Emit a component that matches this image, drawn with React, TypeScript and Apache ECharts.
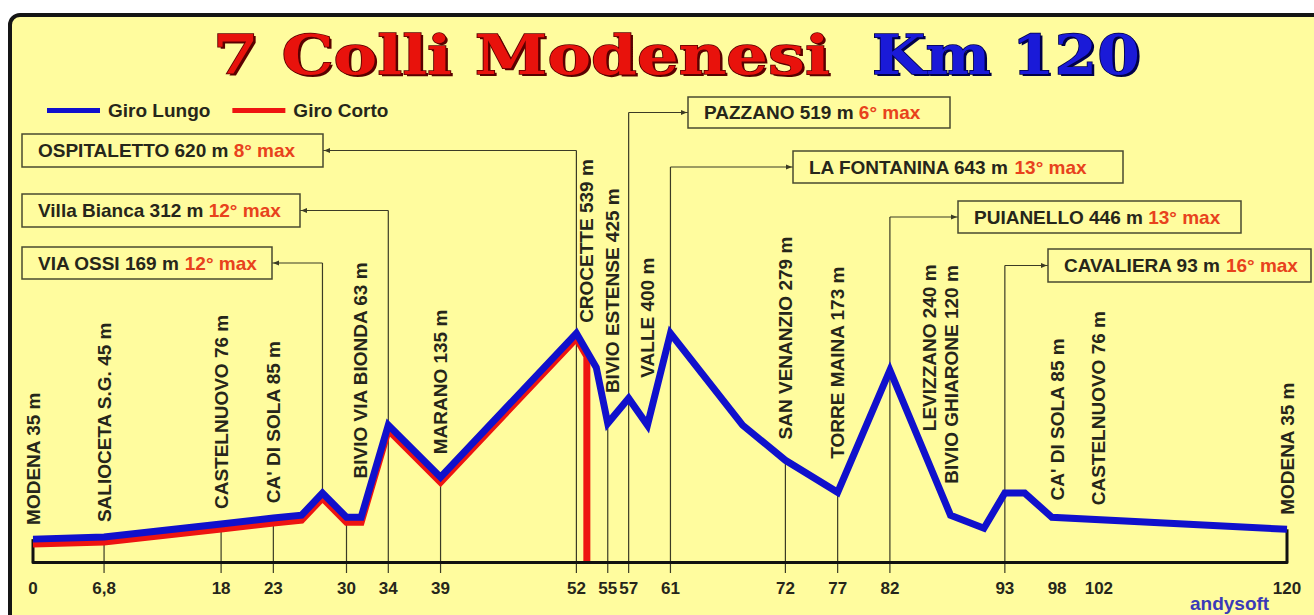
import React, { useEffect, useRef } from "react";
import * as echarts from "echarts";

// ---------------- data ----------------
const TICK_KM = [0, 6.8, 18, 23, 30, 34, 39, 52, 55, 57, 61, 72, 77, 82, 93, 98, 102, 120];

// Giro Lungo profile (km, elevation as drawn)
const LUNGO_KM = [0, 6.8, 18, 23, 25.7, 27.7, 30, 31.4, 34, 39, 52, 53.9, 55, 57, 58.8, 61, 67.9, 72, 77, 82, 87.8, 91, 93, 94.9, 97.5, 120];
const LUNGO_M = [35, 41, 78, 95, 103, 166, 97, 97, 359, 211, 620, 523, 364, 435, 359, 620, 359, 259, 168, 515, 103, 66, 166, 166, 97, 63];

// Giro Corto profile (same road up to the turn at Crocette)
const CORTO_KM = [0, 6.8, 18, 23, 25.7, 27.7, 30, 31.4, 34, 39, 52, 53];
const CORTO_M = [35, 41, 78, 95, 103, 166, 97, 97, 359, 211, 620, 569];

const SERIES_NAMES = ["Giro Lungo", "Giro Corto"];

const PLACE_NAMES = [
  "MODENA 35 m",
  "SALIOCETA S.G. 45 m",
  "CASTELNUOVO 76 m",
  "CA' DI SOLA 85 m",
  "BIVIO VIA BIONDA 63 m",
  "MARANO 135 m",
  "CROCETTE 539 m",
  "BIVIO ESTENSE 425 m",
  "VALLE 400 m",
  "SAN VENANZIO 279 m",
  "TORRE MAINA 173 m",
  "LEVIZZANO 240 m",
  "BIVIO GHIARONE 120 m",
  "CA' DI SOLA 85 m",
  "CASTELNUOVO 76 m",
  "MODENA 35 m",
];
const PLACE_KM = [0, 6.8, 18, 23, 31.3, 39, 53, 55.5, 58.8, 72, 77, 85.8, 87.9, 98, 102, 120];

const CLIMB_NAMES = ["OSPITALETTO 620 m", "Villa Bianca 312 m", "VIA OSSI 169 m", "PAZZANO 519 m", "LA FONTANINA 643 m", "PUIANELLO 446 m", "CAVALIERA 93 m"];
const CLIMB_MAX = ["8° max", "12° max", "12° max", "6° max", "13° max", "13° max", "16° max"];
const CLIMB_KM = [52, 34, 27.7, 57, 61, 82, 93];

const GUIDE_KM = [6.8, 18, 23, 30, 39, 55, 72, 77];

const TITLE_MAIN = "7 Colli Modenesi";
const TITLE_KM = "Km 120";
const CREDIT = "andysoft";

// ---------------- layout / style ----------------
const W = 1314;
const H = 615;
const GRID_LEFT = 33;
const GRID_RIGHT = 27;
const GRID_TOP = 101;
const GRID_BOTTOM = 53;
const Y_MIN = -30;
const Y_MAX = 1280;
const RED_SHIFT = 5;

const YELLOW = "#FFFC9E";
const BLUE = "#1010CC";
const RED = "#EE1411";
const INK = "#26261a";
const GRADE = "#E8421C";
const THIN = "#3b3b25";
const SANS = '"Liberation Sans", Arial, sans-serif';
const SERIF = '"DejaVu Serif", serif';

// box: x, y, w, h, side of the box relative to its guide line, stop at curve
const CLIMB_BOX: [number, number, number, number, string, boolean][] = [
  [22, 134, 301, 33, "L", false],
  [22, 194, 278, 33, "L", false],
  [22, 247, 250, 32, "L", true],
  [688, 97, 262, 31, "R", false],
  [793, 151, 330, 32, "R", false],
  [958, 201, 283, 32, "R", false],
  [1048, 249, 263, 33, "R", false],
];

function interp(km: number): number {
  if (km <= LUNGO_KM[0]) return LUNGO_M[0];
  for (let i = 1; i < LUNGO_KM.length; i++) {
    if (km <= LUNGO_KM[i]) {
      const t = (km - LUNGO_KM[i - 1]) / (LUNGO_KM[i] - LUNGO_KM[i - 1]);
      return LUNGO_M[i - 1] + t * (LUNGO_M[i] - LUNGO_M[i - 1]);
    }
  }
  return LUNGO_M[LUNGO_M.length - 1];
}

function maxAround(km: number, r: number): number {
  let m = Math.max(interp(km - r), interp(km), interp(km + r));
  LUNGO_KM.forEach((k, i) => {
    if (k >= km - r && k <= km + r) m = Math.max(m, LUNGO_M[i]);
  });
  return m;
}

function measure(text: string, font: string): number {
  const c = document.createElement("canvas").getContext("2d");
  if (!c) return text.length * 30;
  c.font = font;
  return c.measureText(text).width;
}

export default function App() {
  const ref = useRef<HTMLDivElement>(null);

  useEffect(() => {
    if (!ref.current) return;
    const chart = echarts.init(ref.current, undefined, { renderer: "svg", width: W, height: H });

    const gridH = H - GRID_TOP - GRID_BOTTOM;
    const redGround = Y_MIN + (RED_SHIFT * (Y_MAX - Y_MIN)) / gridH;

    const lungo = LUNGO_KM.map((k, i) => [k, LUNGO_M[i]]);
    const corto = CORTO_KM.map((k, i) => [k, CORTO_M[i]]);
    corto.push([CORTO_KM[CORTO_KM.length - 1], redGround]);

    chart.setOption({
      animation: false,
      backgroundColor: "#ffffff",
      legend: {
        data: SERIES_NAMES,
        left: 42,
        top: 96,
        icon: "rect",
        itemWidth: 53,
        itemHeight: 5,
        itemGap: 22,
        selectedMode: false,
        textStyle: { fontSize: 19, fontWeight: "bold", color: INK, fontFamily: SANS, padding: [0, 0, 0, 3] },
      },
      grid: [
        { left: GRID_LEFT, right: GRID_RIGHT, top: GRID_TOP, bottom: GRID_BOTTOM },
        { left: GRID_LEFT, right: GRID_RIGHT, top: GRID_TOP + RED_SHIFT, bottom: GRID_BOTTOM - RED_SHIFT },
      ],
      xAxis: [
        {
          gridIndex: 0,
          type: "value",
          min: 0,
          max: 120,
          splitLine: { show: false },
          axisLine: { show: true, onZero: false, lineStyle: { color: "#111", width: 3 } },
          axisTick: { show: false },
          axisLabel: {
            customValues: TICK_KM,
            formatter: (v: number) => String(v).replace(".", ","),
            margin: 18,
            fontSize: 17,
            fontWeight: "bold",
            fontFamily: SANS,
            color: INK,
            showMinLabel: true,
            showMaxLabel: true,
          },
          z: 5,
        },
        { gridIndex: 1, type: "value", min: 0, max: 120, show: false },
      ],
      yAxis: [
        { gridIndex: 0, type: "value", min: Y_MIN, max: Y_MAX, show: false },
        { gridIndex: 1, type: "value", min: Y_MIN, max: Y_MAX, show: false },
      ],
      series: [
        {
          name: SERIES_NAMES[1],
          type: "line",
          xAxisIndex: 1,
          yAxisIndex: 1,
          data: corto,
          symbol: "none",
          clip: false,
          z: 3,
          itemStyle: { color: RED },
          lineStyle: { color: RED, width: 7, join: "miter", cap: "butt" },
        },
        {
          name: SERIES_NAMES[0],
          type: "line",
          xAxisIndex: 0,
          yAxisIndex: 0,
          data: lungo,
          symbol: "none",
          clip: false,
          z: 4,
          itemStyle: { color: BLUE },
          lineStyle: { color: BLUE, width: 7, join: "miter", cap: "butt" },
        },
      ],
    });

    const px = (km: number, m: number) => chart.convertToPixel({ gridIndex: 0 }, [km, m]) as number[];
    const baseY = px(0, Y_MIN)[1];
    const tickEnd = baseY + 11;

    const els: any[] = [];

    // frame
    els.push({
      type: "rect",
      z: -10,
      silent: true,
      shape: { x: 10, y: 15, width: 1340, height: 650, r: 10 },
      style: { fill: YELLOW, stroke: "#151515", lineWidth: 4 },
    });

    // title
    const tFont = `bold 54px ${SERIF}`;
    const sMain = 617 / measure(TITLE_MAIN, tFont);
    const sKm = 268 / measure(TITLE_KM, tFont);
    const titleEls = (text: string, x: number, sx: number, fill: string, dark: string) => [
      {
        type: "text",
        z: 9,
        x: x + 2.5,
        y: 57.5,
        scaleX: sx,
        style: { text, fill: dark, fontSize: 54, fontWeight: "bold", fontFamily: SERIF, align: "left", verticalAlign: "middle" },
      },
      {
        type: "text",
        z: 10,
        x,
        y: 55,
        scaleX: sx,
        style: { text, fill, stroke: dark, lineWidth: 1.5, fontSize: 54, fontWeight: "bold", fontFamily: SERIF, align: "left", verticalAlign: "middle" },
      },
    ];
    els.push(...titleEls(TITLE_MAIN, 213, sMain, "#E8120C", "#5a0000"));
    els.push(...titleEls(TITLE_KM, 872, sKm, "#1A1AD8", "#00004a"));

    // credit
    els.push({
      type: "text",
      z: 10,
      x: 1190,
      y: 603,
      style: { text: CREDIT, fill: "#3a3ab8", fontSize: 19, fontWeight: "bold", fontFamily: SANS, align: "left", verticalAlign: "middle" },
    });

    // end segments at start and finish
    [0, 120].forEach((k) => {
      const [x, y] = px(k, interp(k));
      els.push({ type: "line", z: 3, shape: { x1: x, y1: baseY, x2: x, y2: y }, style: { stroke: "#111", lineWidth: 3 } });
    });

    // guide lines from the profile down past the axis
    GUIDE_KM.forEach((k) => {
      const [x, y] = px(k, interp(k));
      els.push({ type: "line", z: 1, shape: { x1: x, y1: y, x2: x, y2: tickEnd }, style: { stroke: THIN, lineWidth: 1.2 } });
    });

    // climb boxes with connectors
    CLIMB_NAMES.forEach((name, i) => {
      const [bx, by, bw, bh, side, stop] = CLIMB_BOX[i];
      const km = CLIMB_KM[i];
      const [lx, ly] = px(km, interp(km));
      const cy = by + bh / 2;
      els.push({ type: "rect", z: 6, shape: { x: bx, y: by, width: bw, height: bh }, style: { fill: YELLOW, stroke: "#4a4a30", lineWidth: 1.5 } });
      els.push({
        type: "text",
        z: 7,
        x: bx + 16,
        y: cy,
        style: {
          text: `{a|${name} }{b|${CLIMB_MAX[i]}}`,
          align: "left",
          verticalAlign: "middle",
          rich: {
            a: { fill: INK, color: INK, fontSize: 19, fontWeight: "bold", fontFamily: SANS },
            b: { fill: GRADE, color: GRADE, fontSize: 19, fontWeight: "bold", fontFamily: SANS },
          },
        },
      });
      const edge = side === "L" ? bx + bw : bx;
      const dir = side === "L" ? 1 : -1;
      els.push({ type: "line", z: 1, shape: { x1: edge, y1: cy, x2: lx, y2: cy }, style: { stroke: THIN, lineWidth: 1.2 } });
      els.push({
        type: "polygon",
        z: 6,
        shape: { points: [[edge + dir * 1, cy], [edge + dir * 7, cy - 2.5], [edge + dir * 7, cy + 2.5]] },
        style: { fill: THIN },
      });
      els.push({ type: "line", z: 1, shape: { x1: lx, y1: cy, x2: lx, y2: stop ? ly : tickEnd }, style: { stroke: THIN, lineWidth: 1.2 } });
    });

    // vertical place names
    PLACE_NAMES.forEach((name, i) => {
      const km = PLACE_KM[i];
      const x = px(km, 0)[0];
      const y = px(km, maxAround(km, 0.8))[1] - 14;
      els.push({
        type: "text",
        z: 8,
        x,
        y,
        rotation: Math.PI / 2,
        style: {
          text: name,
          fill: INK,
          fontSize: 19,
          fontWeight: "bold",
          fontFamily: SANS,
          align: "left",
          verticalAlign: "middle",
        },
      });
    });

    chart.setOption({ graphic: { elements: els } });

    return () => {
      chart.dispose();
    };
  }, []);

  return <div ref={ref} style={{ position: "absolute", left: 0, top: 0, width: W, height: H }} />;
}
